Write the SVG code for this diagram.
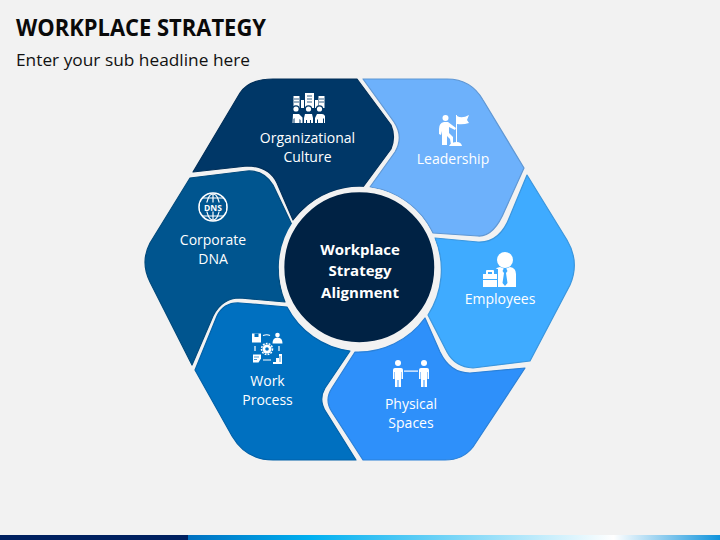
<svg xmlns="http://www.w3.org/2000/svg" width="720" height="540" viewBox="0 0 720 540">
<defs>
<linearGradient id="bar" x1="0" x2="1" y1="0" y2="0">
<stop offset="0" stop-color="#0070c0"/><stop offset="0.23" stop-color="#00b0f0"/><stop offset="0.8" stop-color="#ffffff"/><stop offset="1" stop-color="#0f93dc"/>
</linearGradient>
</defs>
<style>
text{font-family:"Open Sans","Noto Sans","Liberation Sans",sans-serif;text-anchor:middle}
.l{fill:#fff;font-size:14px}
.c{fill:#fff;font-size:15px;font-weight:700}
.i{fill:#fff}
.s{fill:none;stroke:#fff;stroke-width:1.2}
.p{stroke-width:1.2;stroke-linejoin:round}
</style>
<rect width="720" height="540" fill="#f2f2f2"/>
<text x="16" y="36" style="text-anchor:start;font-size:22.5px;font-weight:700" fill="#0a0a0a" textLength="250" lengthAdjust="spacingAndGlyphs">WORKPLACE STRATEGY</text>
<text x="16" y="66" style="text-anchor:start;font-size:16.5px" fill="#111" textLength="234" lengthAdjust="spacingAndGlyphs">Enter your sub headline here</text>
<rect x="0" y="535" width="188" height="5" fill="#002060"/>
<rect x="188" y="535" width="532" height="5" fill="url(#bar)"/>
<g id="node-organizational-culture">
<path class="p" fill="#003767" stroke="#002f59" d="M193 172 L240 93 Q249 79 273 79 L357 79 L391 125 Q396 137 391 149 L363 187 A83 83 0 0 0 293 220 L277 183 Q269 166 247 166 Z"/>
<g class="i"><rect x="293.500" y="96" width="6" height="12"/><rect x="301" y="100" width="3" height="8"/><rect x="305" y="93" width="9" height="15"/><rect x="315" y="100" width="3" height="8"/><rect x="318.500" y="96" width="6" height="12"/></g>
<path d="M294 99h5M294 102h5M319 99h5M319 102h5M307 96h5M307 99h5M307 102h5" stroke="#003767" stroke-width="0.8"/>
<g fill="#003767"><circle cx="296" cy="109" r="3.800"/><circle cx="308.500" cy="109" r="3.800"/><circle cx="319.500" cy="109" r="3.800"/></g>
<g class="i"><circle cx="296" cy="109" r="2.600"/><circle cx="308.500" cy="109" r="2.600"/><circle cx="319.500" cy="109" r="2.600"/>
<path d="M293 114h6l3.500 3.500v5.500h-2v-3l-1-1v4h-5v-5l-1 1v4h-1z"/><path d="M304 118l1-4h7l1 4v5h-2v-3h-1v3h-3v-3h-1v3h-2z"/><path d="M317 114h5q2 0 3 2v7h-1v-4l-1-1v5h-5v-4l-1 1v3h-2v-5z"/></g>
<text class="l" x="307.500" y="143">Organizational</text><text class="l" x="307.500" y="162">Culture</text>
</g>
<g id="node-corporate-dna">
<path class="p" fill="#00558f" stroke="#004a7d" d="M190 178 L150 243 Q140 262 150 282 L192 365 L213 316 Q222 298 240 298 L285 302 A83 83 0 0 1 292 225 L273 185 Q264 170 247 171 Z"/>
<circle cx="213" cy="207" r="14" fill="none" stroke="#fff" stroke-width="1.600"/>
<g class="s"><ellipse cx="213" cy="207" rx="6.500" ry="13"/><path d="M213 194v26M202 198h22M202 216h22"/></g>
<rect x="200" y="202.500" width="26" height="9" fill="#00558f"/>
<text x="213" y="210.500" style="font-size:8.500px;font-weight:700" fill="#fff">DNS</text>
<text class="l" x="213" y="245">Corporate</text><text class="l" x="213" y="264">DNA</text>
</g>
<g id="node-work-process">
<path class="p" fill="#0070c0" stroke="#0061a8" d="M195 370 L217 316 Q224 302 240 303 L287 307 A83 83 0 0 0 350 351 L325 388 Q318 400 326 412 L356 460 L273 460 Q246 460 232 436 Z"/>
<g class="i"><path d="M252 333.500h9v9h-9z"/><circle cx="277.500" cy="335" r="2.300"/><path d="M272.500 343.500q0-6 5-6t5 6z"/><circle cx="267" cy="349" r="4.500"/>
<path d="M253 354.500h8v4l-2.500 4h-5.500z"/><path d="M273 364v-2h3v-4h3v-4h3v10z"/></g>
<path d="M254.500 333.500h4v3.500h-4z" fill="#0070c0"/>
<path d="M254 357h5M254 359.500h3M280 356v6" stroke="#0070c0" stroke-width="0.7"/>
<circle cx="267" cy="349" r="1.800" fill="#0070c0"/>
<path class="s" d="M263 335.500q4-1.500 7 0M255 346v5M279 346v5M263 360h8"/>
<circle cx="267" cy="349" r="5.500" fill="none" stroke="#fff" stroke-width="1.500" stroke-dasharray="1.800 1.200"/>
<text class="l" x="267.500" y="386">Work</text><text class="l" x="267.500" y="405">Process</text>
</g>
<g id="node-physical-spaces">
<path class="p" fill="#2e90fa" stroke="#2a80d8" d="M525 368 L473 447 Q463 460 445 460 L363 460 L332 412 Q324 400 332 388 L355 352 A83 83 0 0 0 425 318 L440 352 Q450 373 470 373 Z"/>
<g class="i"><circle cx="398" cy="363" r="3"/><circle cx="424" cy="363" r="3"/>
<path d="M393 370q0-2 2-2h6q2 0 2 2v9h-1.500v-7h-.5v15h-2.500v-7h-1v7h-2.500v-15h-.5v7h-1.500z"/><path d="M419 370q0-2 2-2h6q2 0 2 2v9h-1.500v-7h-.5v15h-2.500v-7h-1v7h-2.500v-15h-.5v7h-1.500z"/>
<path d="M404 370.500h14v1.200h-14z"/></g>
<text class="l" x="411" y="409">Physical</text><text class="l" x="411" y="428">Spaces</text>
</g>
<g id="node-employees">
<path class="p" fill="#3fabff" stroke="#3a96de" d="M527 175 L567 240 Q580 262 570 285 L530 361 L473 368 Q455 367 447 352 L428 315 A83 83 0 0 0 435 238 L478 242 Q500 243 510 216 Z"/>
<g class="i"><circle cx="505" cy="260" r="8"/><path d="M494 287v-13q0-6 6-7l5 2 5-2q6 1 6 7v13z"/></g>
<path d="M504 268l-1.500 3 1.500 2-1.500 10 2.500 3 2.500-3-1.500-10 1.500-2-1.500-3z" fill="#3fabff"/>
<rect x="482" y="269" width="16" height="19" fill="#3fabff"/>
<g class="i"><path d="M483 274h14v5h-14zM483 280h14v7h-14z"/><path d="M486 274v-3q0-1 1-1h6q1 0 1 1v3h-2v-2h-4v2z"/></g>
<text class="l" x="500" y="304">Employees</text>
</g>
<g id="node-leadership">
<path class="p" fill="#6db1fb" stroke="#5f97d4" d="M363 79 L447 79 Q471 79 483 100 L524 168 L505 210 Q494 237 478 236 L433 233 A83 83 0 0 0 370 187 L395 152 Q404 137 394 122 Z"/>
<g class="i"><circle cx="445.500" cy="118" r="3"/><path d="M439 129q0-6 5-7h4l8 6-1 2-6-3v6l4 4v8h-2l-1-6-3-3v9h-5v-14l-1 4-2-1z"/><path d="M456 115h1v30h-1z"/><path d="M457 116q5 3 12-1l-2 5 2 3q-6 2-12 1z"/><path d="M449 146q2-4 8-4 4 0 5 4z"/></g>
<text class="l" x="453" y="164">Leadership</text>
</g>
<g id="node-center">
<circle cx="359.300" cy="267.300" r="77.700" fill="#002244" stroke="#f2f2f2" stroke-width="5.500"/>
<text class="c" x="360" y="255">Workplace</text><text class="c" x="360" y="276">Strategy</text><text class="c" x="360" y="298">Alignment</text>
</g>
<g id="connectors"/>
</svg>
